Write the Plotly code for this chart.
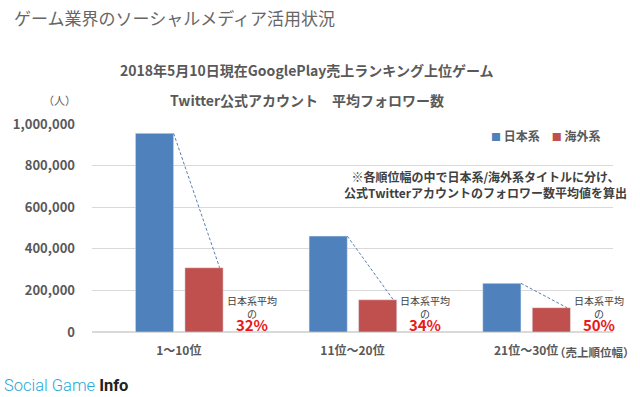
import plotly.graph_objects as go

categories = ["1～10位", "11位～20位", "21位～30位"]
series_names = ["日本系", "海外系"]
japan = [955000, 461000, 234000]
overseas = [309000, 155000, 117000]
pct_labels = ["32%", "34%", "50%"]
y_ticks = [0, 200000, 400000, 600000, 800000, 1000000]

JP = "Noto Sans CJK JP, Noto Sans, sans-serif"
GRAY = "#595959"
BLUE = "#4f81bd"
RED = "#c0504d"

xs = list(range(len(categories)))
BW = 0.22

fig = go.Figure()
fig.add_trace(go.Bar(x=xs, y=japan, name=series_names[0], marker_color=BLUE,
                     width=BW, offset=-0.25))
fig.add_trace(go.Bar(x=xs, y=overseas, name=series_names[1], marker_color=RED,
                     width=BW, offset=0.035))

# dashed connectors from Japanese bar top to overseas bar top
for i in xs:
    fig.add_trace(go.Scatter(x=[i - 0.03, i + 0.235], y=[japan[i], overseas[i]],
                             mode="lines", line=dict(color="#5b7fae", width=1, dash="3px,2px"),
                             showlegend=False, hoverinfo="skip"))

annotations = []
for i in xs:
    annotations.append(dict(
        x=i + 0.42, y=0.085, xref="x", yref="paper",
        text=("日本系平均<br>の<br><span style='font-size:15px;color:#e8191b'><b>%s</b></span>"
              % pct_labels[i]),
        showarrow=False, font=dict(family=JP, size=10, color="#404040"),
        xanchor="center", yanchor="middle", align="center"))

legend_text = ("<span style='color:%s;font-size:10px'>■</span> <b>%s</b>　"
               "<span style='color:%s;font-size:10px'>■</span> <b>%s</b>") % (
    BLUE, series_names[0], RED, series_names[1])

annotations += [
    dict(x=0.413, y=1.26, xref="paper", yref="paper", showarrow=False,
         text="<b>2018年5月10日現在GooglePlay売上ランキング上位ゲーム</b>",
         font=dict(family=JP, size=14, color=GRAY), xanchor="center", yanchor="middle"),
    dict(x=0.413, y=1.115, xref="paper", yref="paper", showarrow=False,
         text="<b>Twitter公式アカウント　平均フォロワー数</b>",
         font=dict(family=JP, size=14, color=GRAY), xanchor="center", yanchor="middle"),
    dict(x=-0.062, y=1.115, xref="paper", yref="paper", showarrow=False,
         text="（人）", font=dict(family=JP, size=11, color=GRAY),
         xanchor="center", yanchor="middle"),
    dict(x=0.755, y=0.709, xref="paper", yref="paper", showarrow=False,
         text="<b>※各順位幅の中で日本系/海外系タイトルに分け、<br>公式Twitterアカウントのフォロワー数平均値を算出</b>",
         font=dict(family=JP, size=12, color="#404040"), xanchor="center", yanchor="middle",
         align="center"),
    dict(x=2.395, y=-0.096, xref="x", yref="paper", showarrow=False,
         text="<b>（売上順位幅）</b>", font=dict(family=JP, size=11.5, color=GRAY),
         xanchor="center", yanchor="middle"),
    dict(x=0.762, y=0.947, xref="paper", yref="paper", showarrow=False,
         text=legend_text, font=dict(family=JP, size=12, color=GRAY),
         xanchor="left", yanchor="middle"),
    dict(x=-0.173, y=-0.255, xref="paper", yref="paper", showarrow=False,
         xanchor="left", yanchor="middle",
         text="<span style='color:#2aa8d6'>Social Game </span><b>Info</b>",
         font=dict(family="Roboto, sans-serif", size=16.5, color="#222222", weight=300)),
]

fig.update_layout(
    width=640, height=397,
    margin=dict(l=92, r=27, t=124, b=65),
    paper_bgcolor="white", plot_bgcolor="white",
    barmode="overlay",
    showlegend=False,
    title=dict(text="ゲーム業界のソーシャルメディア活用状況", x=0.022, xanchor="left",
               y=0.952, yanchor="middle", xref="container", yref="container",
               font=dict(family=JP, size=17, color="#666666")),
    xaxis=dict(tickvals=xs, ticktext=["<b>%s</b>" % c for c in categories],
               range=[-0.5, 2.5], showgrid=False, zeroline=False, showline=False,
               ticks="", ticklabelstandoff=10,
               tickfont=dict(family=JP, size=12, color=GRAY)),
    yaxis=dict(range=[0, 1000000], tickvals=y_ticks,
               ticktext=["<b>{:,}</b>".format(v) for v in y_ticks],
               showgrid=True, gridcolor="#d9d9d9", gridwidth=1, zeroline=True,
               zerolinecolor="#d9d9d9", ticks="", ticklabelstandoff=16,
               tickfont=dict(family=JP, size=13, color=GRAY)),
    annotations=annotations,
)
fig.write_html("out.html", config={"displayModeBar": False},
               post_script="document.body.style.margin='0px';")
